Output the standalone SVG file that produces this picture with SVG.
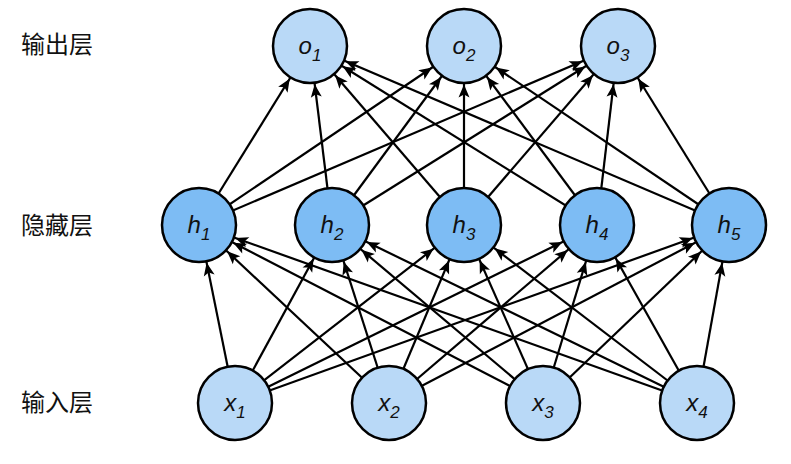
<svg xmlns="http://www.w3.org/2000/svg" width="791" height="464" viewBox="0 0 791 464">
<defs>
<marker id="arr" markerUnits="userSpaceOnUse" orient="auto" refX="38.5" refY="0" markerWidth="60" markerHeight="20" overflow="visible">
<path d="M-13,-5.5 L0,0 L-13,5.5 L-10,0 z" fill="#000"/>
</marker>
</defs>
<style>
.e{stroke:#000;stroke-width:2.2;fill:none;marker-end:url(#arr)}
.n circle{stroke:#000;stroke-width:2.5}
.io circle{fill:#b9d9f7}
.hd circle{fill:#7dbcf4}
.t{font-family:"Liberation Sans",Arial,sans-serif;font-style:italic;font-size:24px;text-anchor:middle;fill:#111}
.s{font-size:17px}
.lab{font-family:"Noto Sans CJK SC","Noto Sans",sans-serif;font-size:24px;text-anchor:middle;fill:#111}
</style>
<rect width="791" height="464" fill="#fff"/>
<g id="connectors">
<line class="e" x1="199" y1="225" x2="310" y2="46"/>
<line class="e" x1="199" y1="225" x2="464" y2="46"/>
<line class="e" x1="199" y1="225" x2="618" y2="46"/>
<line class="e" x1="332" y1="225" x2="310" y2="46"/>
<line class="e" x1="332" y1="225" x2="464" y2="46"/>
<line class="e" x1="332" y1="225" x2="618" y2="46"/>
<line class="e" x1="464" y1="225" x2="310" y2="46"/>
<line class="e" x1="464" y1="225" x2="464" y2="46"/>
<line class="e" x1="464" y1="225" x2="618" y2="46"/>
<line class="e" x1="597" y1="225" x2="310" y2="46"/>
<line class="e" x1="597" y1="225" x2="464" y2="46"/>
<line class="e" x1="597" y1="225" x2="618" y2="46"/>
<line class="e" x1="729" y1="225" x2="310" y2="46"/>
<line class="e" x1="729" y1="225" x2="464" y2="46"/>
<line class="e" x1="729" y1="225" x2="618" y2="46"/>
<line class="e" x1="235" y1="403" x2="199" y2="225"/>
<line class="e" x1="235" y1="403" x2="332" y2="225"/>
<line class="e" x1="235" y1="403" x2="464" y2="225"/>
<line class="e" x1="235" y1="403" x2="597" y2="225"/>
<line class="e" x1="235" y1="403" x2="729" y2="225"/>
<line class="e" x1="389" y1="403" x2="199" y2="225"/>
<line class="e" x1="389" y1="403" x2="332" y2="225"/>
<line class="e" x1="389" y1="403" x2="464" y2="225"/>
<line class="e" x1="389" y1="403" x2="597" y2="225"/>
<line class="e" x1="389" y1="403" x2="729" y2="225"/>
<line class="e" x1="543" y1="403" x2="199" y2="225"/>
<line class="e" x1="543" y1="403" x2="332" y2="225"/>
<line class="e" x1="543" y1="403" x2="464" y2="225"/>
<line class="e" x1="543" y1="403" x2="597" y2="225"/>
<line class="e" x1="543" y1="403" x2="729" y2="225"/>
<line class="e" x1="697" y1="403" x2="199" y2="225"/>
<line class="e" x1="697" y1="403" x2="332" y2="225"/>
<line class="e" x1="697" y1="403" x2="464" y2="225"/>
<line class="e" x1="697" y1="403" x2="597" y2="225"/>
<line class="e" x1="697" y1="403" x2="729" y2="225"/>
</g>
<g id="o1" class="n io"><circle cx="310" cy="46" r="37"/><text class="t" x="310" y="53.5">o<tspan class="s" dy="7">1</tspan></text></g>
<g id="o2" class="n io"><circle cx="464" cy="46" r="37"/><text class="t" x="464" y="53.5">o<tspan class="s" dy="7">2</tspan></text></g>
<g id="o3" class="n io"><circle cx="618" cy="46" r="37"/><text class="t" x="618" y="53.5">o<tspan class="s" dy="7">3</tspan></text></g>
<g id="h1" class="n hd"><circle cx="199" cy="225" r="37"/><text class="t" x="199" y="233">h<tspan class="s" dy="7">1</tspan></text></g>
<g id="h2" class="n hd"><circle cx="332" cy="225" r="37"/><text class="t" x="332" y="233">h<tspan class="s" dy="7">2</tspan></text></g>
<g id="h3" class="n hd"><circle cx="464" cy="225" r="37"/><text class="t" x="464" y="233">h<tspan class="s" dy="7">3</tspan></text></g>
<g id="h4" class="n hd"><circle cx="597" cy="225" r="37"/><text class="t" x="597" y="233">h<tspan class="s" dy="7">4</tspan></text></g>
<g id="h5" class="n hd"><circle cx="729" cy="225" r="37"/><text class="t" x="729" y="233">h<tspan class="s" dy="7">5</tspan></text></g>
<g id="x1" class="n io"><circle cx="235" cy="403" r="37"/><text class="t" x="235" y="410.5">x<tspan class="s" dy="7">1</tspan></text></g>
<g id="x2" class="n io"><circle cx="389" cy="403" r="37"/><text class="t" x="389" y="410.5">x<tspan class="s" dy="7">2</tspan></text></g>
<g id="x3" class="n io"><circle cx="543" cy="403" r="37"/><text class="t" x="543" y="410.5">x<tspan class="s" dy="7">3</tspan></text></g>
<g id="x4" class="n io"><circle cx="697" cy="403" r="37"/><text class="t" x="697" y="410.5">x<tspan class="s" dy="7">4</tspan></text></g>
<g id="labels">
<text class="lab" x="57" y="53">输出层</text>
<text class="lab" x="57" y="234">隐藏层</text>
<text class="lab" x="57" y="411">输入层</text>
</g>
</svg>
